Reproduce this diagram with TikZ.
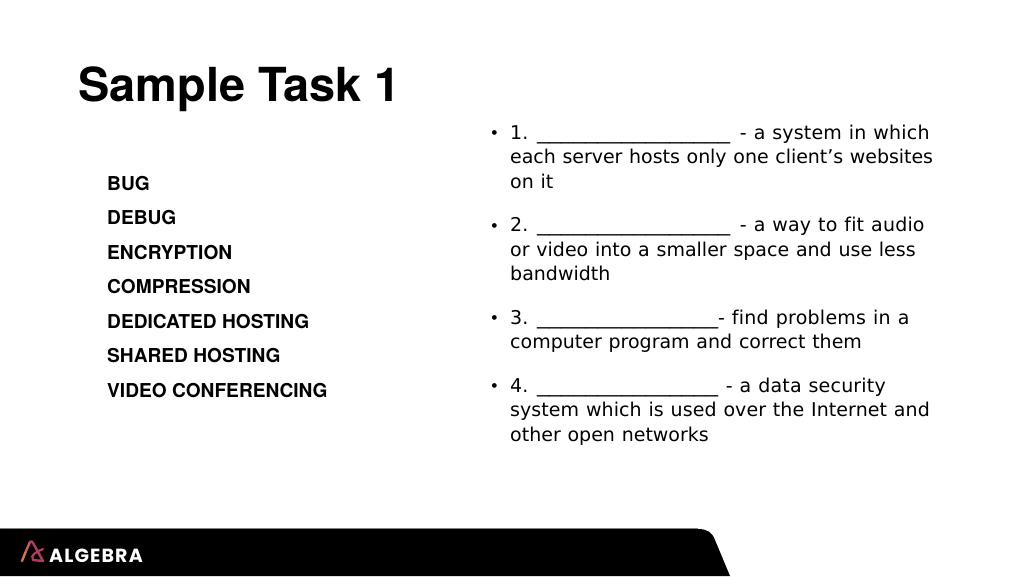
\documentclass[tikz,border=0pt]{standalone}
\usepackage{fontspec}
\setmainfont{TeX Gyre Heros}
\newfontfamily\bodyfont[WordSpace=1.12,Ligatures=NoCommon]{DejaVu Sans}
\newfontfamily\rulefont[FakeStretch=1.27]{DejaVu Sans}
\newfontfamily\logofont[LetterSpace=6]{Poppins}
\definecolor{logoA}{HTML}{B8385F}
\definecolor{logoB}{HTML}{D9763A}
\definecolor{logoC}{HTML}{C9566A}
\newcommand{\blankline}[1]{{\rulefont\foreach \n in {1,...,#1}{\_}}}
\newcommand{\spaced}[2]{{\addfontfeature{LetterSpace=#1}#2}}
\tikzset{
  x=1pt,y=-1pt,
  titletext/.style={anchor=base west,inner sep=0pt,font=\fontsize{46.9}{50}\selectfont\bfseries},
  termtext/.style={anchor=base west,inner sep=0pt,font=\fontsize{19.14}{22}\selectfont\bfseries},
  bodytext/.style={anchor=base west,inner sep=0pt,font=\fontsize{19}{24}\bodyfont},
  bullettext/.style={anchor=base west,inner sep=0pt,font=\fontsize{19}{20}\selectfont},
  logotext/.style={anchor=base west,inner sep=0pt,text=white,font=\fontsize{19}{22}\logofont\bfseries}
}
\begin{document}
\begin{tikzpicture}
\useasboundingbox (0,0) rectangle (1024,576);
\fill[white] (0,0) rectangle (1024,576);
\node[titletext] (title) at (78,101) {Sample Task 1};
\node[termtext] (t1) at (107,190) {BUG};
\node[termtext] (t2) at (107,224.5) {DEBUG};
\node[termtext] (t3) at (107,259) {ENCRYPTION};
\node[termtext] (t4) at (107,293.7) {COMPRESSION};
\node[termtext] (t5) at (107,328) {DEDICATED HOSTING};
\node[termtext] (t6) at (107,362.7) {SHARED HOSTING};
\node[termtext] (t7) at (107,397) {VIDEO CONFERENCING};
\node[bullettext] (b1) at (491,139) {•};
\node[bodytext] (l1) at (510,139.3) {1. \blankline{16}\hspace{3pt} \spaced{1}{- a system in which}};
\node[bodytext] (l2) at (510,163.9) {\spaced{-0.25}{each server hosts only one client’s websites}};
\node[bodytext] (l3) at (510,188.3) {on it};
\node[bullettext] (b2) at (491,232) {•};
\node[bodytext] (l4) at (510,231.8) {2. \blankline{16}\hspace{3pt} \spaced{1}{- a way to fit audio}};
\node[bodytext] (l5) at (510,256.2) {or video into a smaller space and use less};
\node[bodytext] (l6) at (510,280.6) {bandwidth};
\node[bullettext] (b3) at (491,324) {•};
\node[bodytext] (l7) at (510,324.2) {3. \blankline{15}\spaced{1.3}{- find problems in a}};
\node[bodytext] (l8) at (510,348.6) {computer program and correct them};
\node[bullettext] (b4) at (491,392) {•};
\node[bodytext] (l9) at (510,392.2) {4. \blankline{15}\hspace{1pt} \spaced{1}{- a data security}};
\node[bodytext] (l10) at (510,416.6) {\spaced{0.4}{system which is used over the Internet and}};
\node[bodytext] (l11) at (510,441) {other open networks};
% footer band
\fill[black] (0,529) -- (698,529) .. controls (707,529) and (712,532) .. (715,540) -- (730,576) -- (0,576) -- cycle;
\draw[gray,line width=0.6pt] (0,528.6) -- (698,528.6);
% logo
\draw[logoB,line width=2.4pt,line cap=round] (22,561) -- (26,551);
\draw[logoC,line width=2.4pt,line cap=round] (26,551) -- (30,542);
\draw[logoA,line width=2.4pt,line join=round,line cap=round] (30,542) .. controls (31,541) and (32,541) .. (33,543) -- (43,561) -- (33,560);
\draw[logoA,line width=2.2pt,line cap=round] (43,549) .. controls (36,552) and (30,555) .. (33,560);
\node[logotext] (logo) at (49,562.5) {ALGEBRA};
\end{tikzpicture}
\end{document}
